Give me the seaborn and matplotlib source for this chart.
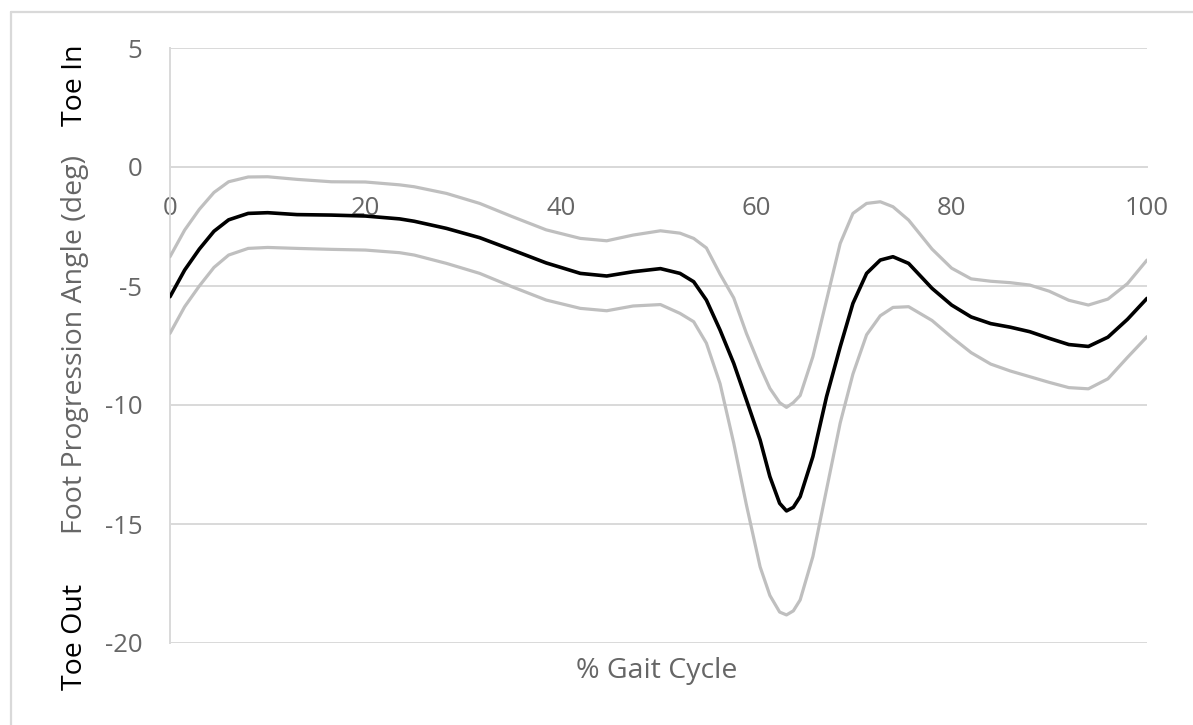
import numpy as np
import pandas as pd
import matplotlib
matplotlib.use("Agg")
import matplotlib.pyplot as plt
from matplotlib.lines import Line2D
import seaborn as sns

# % gait cycle sample positions
gait_pct = [0, 1.5, 3, 4.5, 6, 8, 10, 13, 16.5, 20, 23.5, 25, 28.3, 31.7, 35,
            38.5, 42, 44.7, 47.4, 50.2, 52.2, 53.6, 54.9, 56.3, 57.7, 59.0, 60.4,
            61.4, 62.4, 63.1, 63.8, 64.5, 65.8, 67.2, 68.6, 69.9, 71.3, 72.7, 74.0,
            75.6, 78, 80, 82, 84, 86, 88, 90, 92, 94, 96, 98, 100]

# mean foot progression angle (deg)
fpa_mean = [-5.45, -4.33, -3.45, -2.70, -2.22, -1.95, -1.92, -2.00, -2.02, -2.06,
            -2.18, -2.28, -2.58, -2.97, -3.48, -4.03, -4.47, -4.58, -4.40, -4.27,
            -4.47, -4.82, -5.59, -6.85, -8.25, -9.79, -11.47, -13.01, -14.13,
            -14.45, -14.30, -13.85, -12.17, -9.65, -7.55, -5.73, -4.47, -3.91,
            -3.77, -4.05, -5.10, -5.80, -6.30, -6.58, -6.73, -6.92, -7.20, -7.46,
            -7.54, -7.15, -6.40, -5.52]

# mean + 1 SD
fpa_upper = [-3.77, -2.65, -1.78, -1.07, -0.62, -0.42, -0.41, -0.52, -0.62, -0.63,
             -0.75, -0.83, -1.11, -1.53, -2.08, -2.64, -3.00, -3.10, -2.86, -2.68,
             -2.78, -3.00, -3.40, -4.50, -5.50, -6.99, -8.39, -9.30, -9.90, -10.10,
             -9.90, -9.60, -7.97, -5.59, -3.21, -1.95, -1.53, -1.46, -1.67, -2.23,
             -3.45, -4.25, -4.70, -4.80, -4.86, -4.96, -5.22, -5.60, -5.80, -5.55,
             -4.90, -3.91]

# mean - 1 SD
fpa_lower = [-6.99, -5.87, -5.00, -4.22, -3.70, -3.42, -3.38, -3.42, -3.46, -3.49,
             -3.60, -3.70, -4.05, -4.47, -5.03, -5.59, -5.94, -6.04, -5.84, -5.78,
             -6.15, -6.50, -7.40, -9.10, -11.60, -14.20, -16.80, -18.00, -18.70,
             -18.82, -18.65, -18.19, -16.37, -13.55, -10.75, -8.70, -7.05, -6.25,
             -5.90, -5.87, -6.45, -7.15, -7.80, -8.28, -8.57, -8.81, -9.05, -9.27,
             -9.32, -8.90, -8.00, -7.13]

x_ticks = [0, 20, 40, 60, 80, 100]
y_ticks = [-20, -15, -10, -5, 0, 5]

df = pd.DataFrame({"pct": gait_pct, "mean": fpa_mean,
                   "upper": fpa_upper, "lower": fpa_lower})

sns.set_theme(style="white")
plt.rcParams["font.family"] = ["Open Sans", "DejaVu Sans"]

grid_c = "#d9d9d9"
label_c = "#666666"

fig = plt.figure(figsize=(11.93, 7.25), dpi=100)
ax = fig.add_axes([170 / 1193, 1 - 643 / 725, (1147 - 170) / 1193, (643 - 48) / 725])

line_kw = dict(solid_capstyle="round", solid_joinstyle="round")
sns.lineplot(data=df, x="pct", y="upper", ax=ax, color="#bfbfbf", lw=2.3,
             zorder=3, **line_kw)
sns.lineplot(data=df, x="pct", y="lower", ax=ax, color="#bfbfbf", lw=2.3,
             zorder=3, **line_kw)
sns.lineplot(data=df, x="pct", y="mean", ax=ax, color="black", lw=2.6,
             zorder=4, **line_kw)

ax.set_xlim(0, 100)
ax.set_ylim(-20, 5)
ax.set_xticks(x_ticks)
ax.set_yticks(y_ticks)
ax.set_xticklabels([str(v) for v in x_ticks])
ax.set_yticklabels([str(v) for v in y_ticks])
ax.yaxis.grid(True, color=grid_c, lw=1.4)
ax.xaxis.grid(False)
ax.set_axisbelow(True)

for side in ("top", "right"):
    ax.spines[side].set_visible(False)
ax.spines["left"].set_color(grid_c)
ax.spines["left"].set_linewidth(1.4)
ax.spines["bottom"].set_position(("data", 0))
ax.spines["bottom"].set_color(grid_c)
ax.spines["bottom"].set_linewidth(1.4)

ax.tick_params(axis="x", length=0, pad=21, labelsize=18.5, labelcolor=label_c)
ax.tick_params(axis="y", length=0, pad=20, labelsize=18.5, labelcolor=label_c)
ax.set_xlabel("")
ax.set_ylabel("")

fig.text(657 / 1193, 1 - 671 / 725, "% Gait Cycle", ha="center", va="center",
         fontsize=20.5, color=label_c)
fig.text(75 / 1193, 1 - 345 / 725, "Foot Progression Angle (deg)", ha="center",
         va="center", rotation=90, fontsize=20.5, color=label_c)
fig.text(75 / 1193, 1 - 85 / 725, "Toe In", ha="center", va="center",
         rotation=90, fontsize=20.5, color="black")
fig.text(75 / 1193, 1 - 637 / 725, "Toe Out", ha="center", va="center",
         rotation=90, fontsize=20.5, color="black")

# chart-area frame
fig.add_artist(Line2D([11 / 1193, 11 / 1193], [0, 1 - 12 / 725],
                      transform=fig.transFigure, color=grid_c, lw=1.6))
fig.add_artist(Line2D([11 / 1193, 1], [1 - 12 / 725, 1 - 12 / 725],
                      transform=fig.transFigure, color=grid_c, lw=1.6))

fig.savefig("out.png", dpi=100)
